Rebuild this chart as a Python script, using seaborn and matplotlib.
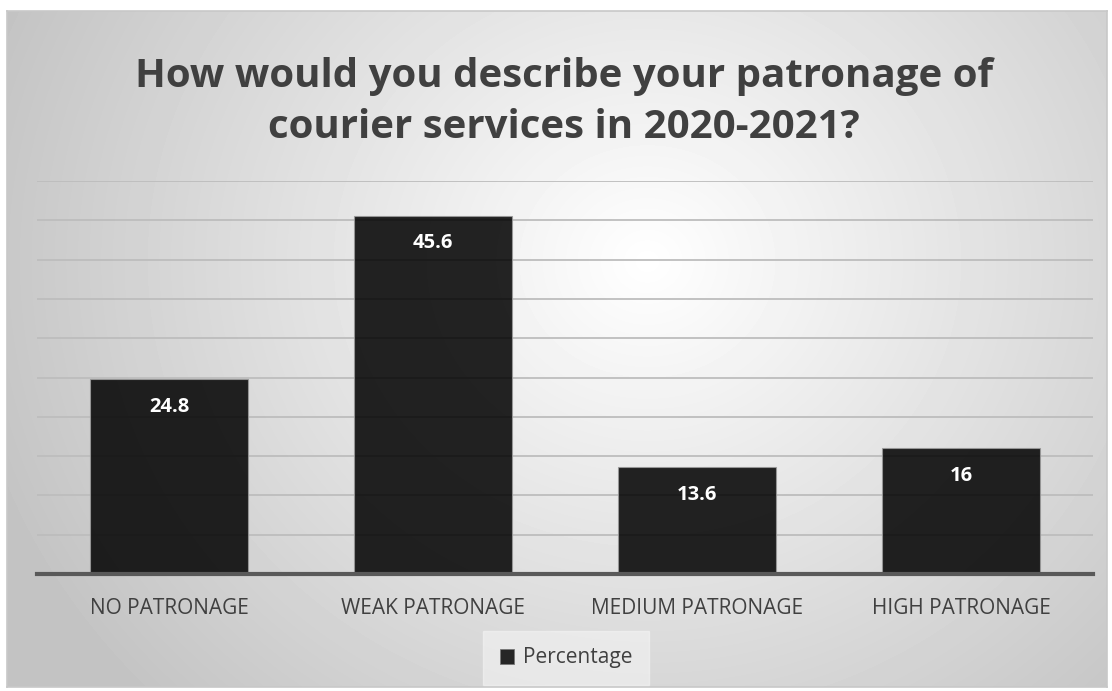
import numpy as np
import pandas as pd
import matplotlib
matplotlib.use("Agg")
import matplotlib.pyplot as plt
import seaborn as sns

categories = ["NO PATRONAGE", "WEAK PATRONAGE", "MEDIUM PATRONAGE", "HIGH PATRONAGE"]
percentages = [24.8, 45.6, 13.6, 16]
value_labels = ["24.8", "45.6", "13.6", "16"]
series_name = "Percentage"
title = "How would you describe your patronage of\ncourier services in 2020-2021?"

sns.set_theme(style="white")
plt.rcParams["font.family"] = ["Open Sans", "DejaVu Sans"]

W, H = 1112, 691
fig = plt.figure(figsize=(W / 100, H / 100), dpi=100)
fig.patch.set_facecolor("white")

# chart area with a radial grey gradient
bx0, by0, bx1, by1 = 7, 11, 1107, 687
bg = fig.add_axes([bx0 / W, 1 - by1 / H, (bx1 - bx0) / W, (by1 - by0) / H])
yy, xx = np.mgrid[0:(by1 - by0), 0:(bx1 - bx0)]
cx, cy = 640, 250
d = np.hypot(xx - cx, (yy - cy) * 1.1)
d = d / 700.0
shade = np.clip(255 - 60 * d, 195, 255) / 255.0
bg.imshow(shade, cmap="gray", vmin=0, vmax=1, aspect="auto",
          extent=[0, 1, 0, 1], interpolation="bilinear")
bg.set_xticks([]); bg.set_yticks([])
for s in bg.spines.values():
    s.set_color("#c8c8c8")
    s.set_linewidth(1.2)

# plot area
px0, py0, px1, py1 = 37, 181, 1093, 574
ax = fig.add_axes([px0 / W, 1 - py1 / H, (px1 - px0) / W, (py1 - py0) / H])
ax.patch.set_alpha(0)

df = pd.DataFrame({"category": categories, "value": percentages})
sns.barplot(data=df, x="category", y="value", color="black", width=0.6,
            saturation=1, ax=ax, zorder=3, edgecolor="#9a9a9a", linewidth=0.8)
for p in ax.patches:
    p.set_alpha(0.86)

ax.set_ylim(0, 50)
ax.set_xlim(-0.5, len(categories) - 0.5)
ax.set_yticks(np.arange(0, 51, 5))
ax.set_yticklabels([])
ax.yaxis.grid(True, color="#bdbdbd", linewidth=1.3, zorder=0)
ax.set_axisbelow(True)
for s in ["left", "right", "top"]:
    ax.spines[s].set_visible(False)
ax.spines["bottom"].set_color("#595959")
ax.spines["bottom"].set_linewidth(3)
ax.spines["bottom"].set_zorder(5)
ax.set_xlabel("")
ax.set_ylabel("")
ax.tick_params(axis="x", length=0, pad=17, labelsize=15, labelcolor="#404040")
ax.tick_params(axis="y", length=0)

for i, (v, lab) in enumerate(zip(percentages, value_labels)):
    ax.annotate(lab, (i, v), xytext=(0, -20), textcoords="offset points",
                ha="center", va="center", color="white", fontsize=14.5,
                fontweight="bold", zorder=6)

fig.text(564 / W, 1 - 102 / H, title, ha="center", va="center", fontsize=29,
         fontweight="bold", color="#404040", linespacing=1.42)

# legend
lg = fig.legend(handles=[plt.Rectangle((0, 0), 1, 1, facecolor="#262626",
                                       edgecolor="#777777", linewidth=0.6)],
                labels=[series_name], loc="center", bbox_to_anchor=(566 / W, 1 - 658 / H),
                frameon=True, fontsize=15, handlelength=0.7, handleheight=0.7,
                handletextpad=0.4, borderpad=0.8, fancybox=False)
lg.get_frame().set_facecolor("#f4f4f4")
lg.get_frame().set_edgecolor("#f4f4f4")
lg.get_frame().set_alpha(0.6)
for t in lg.get_texts():
    t.set_color("#404040")

fig.savefig("out.png", dpi=100)
